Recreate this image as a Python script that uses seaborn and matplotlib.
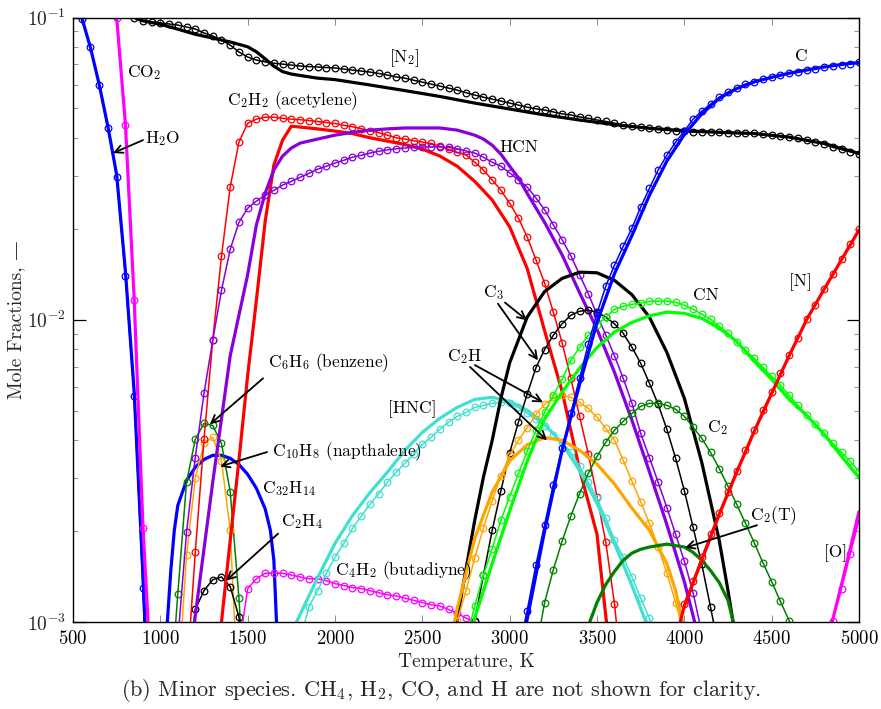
import numpy as np
import matplotlib
matplotlib.use("Agg")
import matplotlib.pyplot as plt
import seaborn as sns
from matplotlib.ticker import FixedLocator, LogLocator, NullFormatter

# colours of the species
BLUE = "#0000ff"
MAGENTA = "#ff00ff"
RED = "#ff0000"
PURPLE = "#8800dd"
TURQ = "#40e0d0"
LIME = "#00ff00"
DKGREEN = "#008000"
ORANGE = "#ffa500"
BLACK = "#000000"


def grid(t0, t1):
    # temperature grid of the circle-marked curves (every 50 K)
    return np.arange(t0, t1 + 1, 50)


# ---- H2O ----
h2o_T = [500, 550, 600, 650, 700, 750, 800, 850, 900, 950]
h2o_line = [0.125, 0.100, 0.0795, 0.0600, 0.0435, 0.0302, 0.0145, 0.0058, 0.00145, 0.0003]
h2o_mark = [0.125, 0.099, 0.0798, 0.0598, 0.0431, 0.0297, 0.0140, 0.0056, 0.0013, 0.0002]

# ---- CO2 ----
co2_T = [700, 750, 800, 850, 900, 950]
co2_line = [0.16, 0.100, 0.0445, 0.0118, 0.0021, 0.0006]
co2_mark = [0.16, 0.100, 0.0440, 0.0116, 0.00204, 0.0006]

# ---- N2 ----
n2_line_T = [850, 900, 1000, 1100, 1200, 1300, 1400, 1500, 1550, 1600, 1650, 1700, 1750, 1800,
             1900, 2000, 2200, 2400, 2600, 2800, 3000, 3200, 3400, 3600, 3800, 4000, 4200,
             4400, 4600, 4800, 5000]
n2_line = [0.100, 0.0975, 0.0950, 0.0915, 0.0880, 0.0855, 0.0830, 0.0800, 0.0770, 0.0730,
           0.0690, 0.0662, 0.0650, 0.0643, 0.0630, 0.0623, 0.0598, 0.0573, 0.0548, 0.0521,
           0.0498, 0.0476, 0.0458, 0.0442, 0.0430, 0.0422, 0.0417, 0.0413, 0.0402, 0.0383, 0.0355]
n2_mark_T = grid(850, 5000)
n2_mark = [0.100, 0.0974, 0.0967, 0.0960, 0.0952, 0.0944, 0.0930, 0.0916, 0.0889, 0.0869,
           0.0842, 0.0810, 0.0769, 0.0740, 0.0723, 0.0713, 0.0706, 0.0701, 0.0696, 0.0691,
           0.0688, 0.0686, 0.0683, 0.0681, 0.0675, 0.0670, 0.0665, 0.0660, 0.0653, 0.0645,
           0.0636, 0.0630, 0.0620, 0.0611, 0.0602, 0.0593, 0.0584, 0.0575, 0.0564, 0.0554,
           0.0545, 0.0537, 0.0529, 0.0521, 0.0513, 0.0505, 0.0499, 0.0494, 0.0487, 0.0480,
           0.0476, 0.0469, 0.0464, 0.0458, 0.0453, 0.0447, 0.0442, 0.0437, 0.0433, 0.0430,
           0.0427, 0.0424, 0.0422, 0.0420, 0.0418, 0.0417, 0.0417, 0.0417, 0.0416, 0.0416,
           0.0415, 0.0414, 0.0411, 0.0408, 0.0405, 0.0402, 0.0398, 0.0393, 0.0387, 0.0381,
           0.0372, 0.0366, 0.0360, 0.0353]

# ---- C ----
c_line_T = [3050, 3100, 3200, 3300, 3400, 3500, 3600, 3700, 3800, 3900, 4000, 4100, 4200,
            4300, 4400, 4500, 4600, 4700, 4800, 4900, 5000]
c_line = [0.00075, 0.00102, 0.0020, 0.0037, 0.0061, 0.0098, 0.0142, 0.0190, 0.0258, 0.0335,
          0.0410, 0.0480, 0.0540, 0.0582, 0.0612, 0.0634, 0.0654, 0.0670, 0.0686, 0.0699, 0.0710]
c_mark_T = grid(3050, 5000)
c_mark = [0.0008, 0.00109, 0.00154, 0.0021, 0.00285, 0.00375, 0.0049, 0.0064, 0.0083, 0.0105,
          0.0129, 0.01515, 0.0175, 0.0201, 0.0236, 0.0272, 0.0313, 0.0350, 0.0387, 0.0421,
          0.0461, 0.0490, 0.0517, 0.0545, 0.0567, 0.0584, 0.0602, 0.0614, 0.0626, 0.0635,
          0.0645, 0.0655, 0.0662, 0.0670, 0.0678, 0.0686, 0.0691, 0.0699, 0.0704, 0.0710]

# ---- C2H2 (acetylene) ----
c2h2_line_T = [1300, 1350, 1400, 1450, 1500, 1550, 1600, 1650, 1700, 1750, 1800, 1900, 2000,
               2100, 2200, 2300, 2400, 2500, 2600, 2700, 2800, 2900, 3000, 3100, 3200, 3300,
               3400, 3500, 3550, 3600]
c2h2_line = [0.0006, 0.001, 0.00186, 0.00343, 0.00655, 0.0116, 0.0211, 0.0325, 0.0393, 0.0437,
             0.0434, 0.0428, 0.0421, 0.0413, 0.0400, 0.0390, 0.0380, 0.0367, 0.0348, 0.0322,
             0.0287, 0.0249, 0.0203, 0.0148, 0.0092, 0.0058, 0.0032, 0.00195, 0.00105, 0.0006]
c2h2_mark_T = grid(1150, 3650)
c2h2_mark = [0.00064, 0.0017, 0.00402, 0.00855, 0.0162, 0.0275, 0.0387, 0.0447, 0.0461, 0.0468,
             0.0468, 0.0464, 0.0461, 0.0459, 0.0456, 0.0453, 0.0449, 0.0446, 0.0440, 0.0435,
             0.0429, 0.0422, 0.0416, 0.0408, 0.0400, 0.0396, 0.0391, 0.0387, 0.0383, 0.0375,
             0.0366, 0.0358, 0.0351, 0.0332, 0.0313, 0.0290, 0.0268, 0.0243, 0.0217, 0.0188,
             0.0158, 0.0132, 0.0106, 0.0084, 0.0064, 0.0048, 0.0036, 0.0026, 0.00184, 0.00115,
             0.0006]

# ---- HCN ----
hcn_line_T = [1150, 1200, 1300, 1400, 1500, 1550, 1600, 1650, 1700, 1750, 1800, 1900, 2000,
              2100, 2200, 2300, 2400, 2500, 2600, 2700, 2800, 2850, 2900, 2950, 3000, 3050,
              3100, 3200, 3300, 3400, 3500, 3600, 3700, 3800, 3900, 4000, 4050, 4100]
hcn_line = [0.00055, 0.00105, 0.0029, 0.0076, 0.0141, 0.0206, 0.0262, 0.0313, 0.0348, 0.0370,
            0.0384, 0.0396, 0.0408, 0.0417, 0.0424, 0.0428, 0.0431, 0.0431, 0.0431, 0.0424,
            0.0408, 0.0396, 0.0378, 0.0353, 0.0322, 0.0295, 0.0262, 0.0210, 0.0164, 0.0123,
            0.0093, 0.0067, 0.00465, 0.00314, 0.0021, 0.00136, 0.00105, 0.0008]
hcn_mark_T = grid(1100, 4100)
hcn_mark = [0.00087, 0.00198, 0.0035, 0.00571, 0.00855, 0.0125, 0.0171, 0.0210, 0.0234, 0.0247,
            0.0258, 0.0268, 0.0279, 0.0287, 0.0296, 0.0305, 0.0315, 0.0322, 0.0330, 0.0337,
            0.0345, 0.0350, 0.0356, 0.0361, 0.0365, 0.0368, 0.0370, 0.0372, 0.0373, 0.0373,
            0.0373, 0.0372, 0.0368, 0.0362, 0.0356, 0.0345, 0.0332, 0.0322, 0.0306, 0.0290,
            0.0275, 0.0253, 0.0231, 0.0206, 0.0184, 0.0163, 0.0141, 0.0122, 0.0104, 0.0089,
            0.0076, 0.0064, 0.0053, 0.00421, 0.0035, 0.0029, 0.00239, 0.00195, 0.00159, 0.00125,
            0.00092]

# ---- C3 ----
c3_line_T = [2650, 2700, 2800, 2850, 2900, 2950, 3000, 3100, 3200, 3300, 3400, 3500, 3600,
             3700, 3800, 3900, 4000, 4100, 4200, 4250, 4300]
c3_line = [0.0005, 0.00103, 0.00217, 0.00302, 0.00399, 0.0055, 0.0072, 0.0102, 0.0124, 0.0137,
           0.01437, 0.0143, 0.0135, 0.0121, 0.0102, 0.0078, 0.0055, 0.00337, 0.00186, 0.00127,
           0.00084]
c3_mark_T = grid(2750, 4200)
c3_mark = [0.0007, 0.00101, 0.00143, 0.00201, 0.00272, 0.00363, 0.00458, 0.00567, 0.00693, 0.00797,
           0.00889, 0.0097, 0.01035, 0.01067, 0.01075, 0.0106, 0.0102, 0.0097, 0.00902, 0.00811,
           0.00718, 0.00617, 0.00525, 0.00434, 0.00348, 0.00272, 0.00206, 0.00155, 0.00112, 0.0008]

# ---- small hydrocarbons near 1300 K ----
c2h4_mark_T = grid(1150, 1500)
c2h4_mark = [0.00055, 0.0011, 0.00127, 0.00138, 0.00141, 0.00131, 0.00104, 0.0005]
c6h6_mark_T = grid(1050, 1500)
c6h6_mark = [0.0005, 0.00124, 0.0029, 0.00402, 0.00454, 0.00447, 0.0039, 0.0027, 0.0012, 0.0004]
c10h8_mark_T = grid(1100, 1450)
c10h8_mark = [0.0006, 0.00166, 0.00299, 0.0039, 0.00408, 0.00342, 0.00201, 0.0005]
c32h14_T = [1030, 1040, 1060, 1080, 1100, 1150, 1200, 1250, 1300, 1350, 1400, 1450, 1500,
            1550, 1600, 1630, 1650, 1665, 1670]
c32h14 = [0.00087, 0.001, 0.00148, 0.00201, 0.00243, 0.00294, 0.00325, 0.00345, 0.00356, 0.00356,
          0.00348, 0.00332, 0.00308, 0.00277, 0.00237, 0.00201, 0.0016, 0.001, 0.00075]
c4h2_mark_T = grid(1450, 2850)
c4h2_mark = [0.00082, 0.00129, 0.00139, 0.00145, 0.00145, 0.00145, 0.00143, 0.00141, 0.00139, 0.00139,
             0.00137, 0.00134, 0.00132, 0.0013, 0.00129, 0.00127, 0.00125, 0.00123, 0.00122, 0.0012,
             0.00118, 0.00116, 0.00114, 0.00113, 0.0011, 0.00107, 0.00103, 0.001, 0.00087]

# ---- HNC ----
hnc_line_T = [1750, 1780, 1900, 2000, 2100, 2200, 2300, 2400, 2500, 2600, 2700, 2800, 2900,
              3000, 3100, 3200, 3300, 3400, 3500, 3600, 3700, 3780, 3800]
hnc_line = [0.0008, 0.001, 0.0014, 0.00182, 0.00225, 0.00268, 0.00313, 0.0037, 0.00424, 0.00472,
            0.00513, 0.00545, 0.00554, 0.00537, 0.00502, 0.00451, 0.0039, 0.00317, 0.00247,
            0.00182, 0.00132, 0.001, 0.00092]
hnc_mark_T = grid(1800, 3850)
hnc_mark = [0.00087, 0.00112, 0.00127, 0.00145, 0.00164, 0.00182, 0.00204, 0.00224, 0.00245, 0.00266,
            0.0029, 0.00313, 0.00335, 0.00359, 0.00387, 0.00408, 0.00434, 0.00458, 0.00479, 0.00494,
            0.00513, 0.00521, 0.00529, 0.00533, 0.00529, 0.00513, 0.0049, 0.00468, 0.00445, 0.00417,
            0.00393, 0.00365, 0.00327, 0.0029, 0.00257, 0.00221, 0.00187, 0.00164, 0.00141, 0.0012,
            0.00103, 0.00087]

# ---- C2H ----
c2h_line_T = [2650, 2700, 2800, 2900, 3000, 3100, 3200, 3300, 3400, 3500, 3600, 3700, 3800,
              3900, 3950, 3990, 4050]
c2h_line = [0.0008, 0.00111, 0.00189, 0.00269, 0.00341, 0.00386, 0.00408, 0.00399, 0.0037, 0.00333,
            0.00286, 0.00238, 0.00201, 0.00156, 0.00127, 0.001, 0.00064]
c2h_mark_T = grid(2700, 4000)
c2h_mark = [0.00101, 0.00127, 0.00163, 0.00205, 0.00252, 0.00305, 0.00356, 0.00399, 0.0044, 0.00486,
            0.00525, 0.00554, 0.00562, 0.00554, 0.00533, 0.00509, 0.00476, 0.00437, 0.00399, 0.00343,
            0.00292, 0.0025, 0.00212, 0.00177, 0.00145, 0.00116, 0.0009]

# ---- CN ----
cn_line_T = [2750, 2800, 2900, 3000, 3100, 3200, 3300, 3400, 3500, 3600, 3700, 3800, 3900,
             4000, 4100, 4200, 4300, 4400, 4500, 4600, 4700, 4800, 4900, 5000]
cn_line = [0.0008, 0.00103, 0.00156, 0.00233, 0.0034, 0.0047, 0.00575, 0.00691, 0.0081, 0.0091,
           0.0098, 0.0103, 0.0106, 0.0105, 0.0101, 0.00938, 0.00848, 0.00729, 0.00635, 0.00545,
           0.00483, 0.00418, 0.00353, 0.0030]
cn_mark_T = grid(2750, 5000)
cn_mark = [0.00087, 0.00113, 0.00143, 0.00175, 0.00217, 0.0026, 0.0031, 0.00367, 0.00431, 0.00494,
           0.00562, 0.00635, 0.00734, 0.0081, 0.00889, 0.0096, 0.0102, 0.01083, 0.01108, 0.01125,
           0.01134, 0.01152, 0.01152, 0.01152, 0.01143, 0.01117, 0.01083, 0.01043, 0.01004, 0.00952,
           0.00902, 0.00842, 0.00792, 0.00746, 0.00696, 0.0065, 0.00607, 0.00562, 0.00521, 0.00483,
           0.00451, 0.00421, 0.0039, 0.00364, 0.0034, 0.00315]

# ---- C2 and C2(T) ----
c2_mark_T = grid(3150, 4650)
c2_mark = [0.0008, 0.00116, 0.00149, 0.00185, 0.00224, 0.00266, 0.0031, 0.00353, 0.00393, 0.00431,
           0.00461, 0.0049, 0.00517, 0.00529, 0.00529, 0.00521, 0.00505, 0.00479, 0.00441, 0.00405,
           0.00364, 0.00322, 0.00281, 0.00245, 0.00212, 0.00183, 0.00157, 0.00136, 0.00117, 0.00101,
           0.00087]
c2t_T = [3450, 3500, 3550, 3600, 3650, 3700, 3750, 3800, 3850, 3900, 3950, 4000, 4050, 4100,
         4150, 4200, 4250, 4280, 4300]
c2t = [0.00097, 0.00116, 0.00133, 0.00147, 0.0016, 0.00169, 0.00174, 0.00177, 0.00179, 0.00181,
       0.00179, 0.00177, 0.0017, 0.0016, 0.00148, 0.00135, 0.00118, 0.001, 0.00087]

# ---- [N] and [O] ----
n_line_T = [3950, 4000, 4100, 4200, 4300, 4400, 4500, 4600, 4700, 4800, 4900, 5000]
n_line = [0.00087, 0.00113, 0.0016, 0.00227, 0.00313, 0.00427, 0.0057, 0.0076, 0.0100, 0.0126,
          0.0158, 0.0198]
n_mark_T = grid(3950, 5000)
n_mark = [0.00087, 0.00115, 0.00137, 0.00164, 0.00195, 0.0023, 0.0027, 0.00317, 0.0037, 0.00431,
          0.00502, 0.00575, 0.00665, 0.00763, 0.00868, 0.01008, 0.01117, 0.01262, 0.01415, 0.01586,
          0.01778, 0.01994]
o_line_T = [4800, 4850, 4900, 4950, 5000]
o_line = [0.0007, 0.00102, 0.00133, 0.00175, 0.00232]
o_mark_T = grid(4800, 5000)
o_mark = [0.00077, 0.00101, 0.00129, 0.00168, 0.00217]

sns.set_style("ticks")
plt.rcParams["font.family"] = ["cmr10", "DejaVu Serif"]
plt.rcParams["mathtext.fontset"] = "cm"
plt.rcParams["axes.unicode_minus"] = False
plt.rcParams["axes.formatter.use_mathtext"] = True

fig = plt.figure(figsize=(8.81, 7.09), dpi=100)
ax = fig.add_axes([73 / 881, 1 - 622 / 709, 786 / 881, 604.5 / 709])


def solid(t, y, color):
    sns.lineplot(x=t, y=y, ax=ax, color=color, lw=2.3, sort=False, errorbar=None)


def marked(t, y, color):
    sns.lineplot(x=t, y=y, ax=ax, color=color, lw=1.1, marker="o", markersize=4.8,
                 markerfacecolor="none", markeredgecolor=color, markeredgewidth=0.9,
                 sort=False, errorbar=None)


solid(h2o_T, h2o_line, BLUE)
marked(h2o_T, h2o_mark, BLUE)
solid(co2_T, co2_line, MAGENTA)
marked(co2_T, co2_mark, MAGENTA)
solid(n2_line_T, n2_line, BLACK)
marked(n2_mark_T, n2_mark, BLACK)
solid(c32h14_T, c32h14, BLUE)
marked(c6h6_mark_T, c6h6_mark, DKGREEN)
marked(c10h8_mark_T, c10h8_mark, ORANGE)
marked(c2h4_mark_T, c2h4_mark, BLACK)
marked(c4h2_mark_T, c4h2_mark, MAGENTA)
solid(c2h2_line_T, c2h2_line, RED)
marked(c2h2_mark_T, c2h2_mark, RED)
solid(hcn_line_T, hcn_line, PURPLE)
marked(hcn_mark_T, hcn_mark, PURPLE)
solid(hnc_line_T, hnc_line, TURQ)
marked(hnc_mark_T, hnc_mark, TURQ)
solid(c3_line_T, c3_line, BLACK)
marked(c3_mark_T, c3_mark, BLACK)
solid(c2h_line_T, c2h_line, ORANGE)
marked(c2h_mark_T, c2h_mark, ORANGE)
solid(cn_line_T, cn_line, LIME)
marked(cn_mark_T, cn_mark, LIME)
solid(c2t_T, c2t, DKGREEN)
marked(c2_mark_T, c2_mark, DKGREEN)
solid(c_line_T, c_line, BLUE)
marked(c_mark_T, c_mark, BLUE)
solid(n_line_T, n_line, RED)
marked(n_mark_T, n_mark, RED)
solid(o_line_T, o_line, MAGENTA)
marked(o_mark_T, o_mark, MAGENTA)

ax.set_yscale("log")
ax.set_xlim(500, 5000)
ax.set_ylim(1e-3, 1e-1)

# axes, ticks
for s in ax.spines.values():
    s.set_visible(True)
    s.set_linewidth(1.0)
    s.set_color("black")
ax.xaxis.set_major_locator(FixedLocator(np.arange(500, 5001, 500)))
ax.yaxis.set_major_locator(LogLocator(base=10))
ax.yaxis.set_minor_locator(LogLocator(base=10, subs=np.arange(2, 10)))
ax.yaxis.set_minor_formatter(NullFormatter())
ax.tick_params(axis="x", which="major", direction="in", top=True, bottom=True,
               length=5, width=0.7, color="0.55", labelsize=13.5, pad=6, labelcolor="black")
ax.tick_params(axis="y", which="major", direction="in", left=True, right=True,
               length=9, width=0.9, color="black", labelsize=14, pad=5)
ax.tick_params(axis="y", which="minor", direction="in", left=True, right=True,
               length=3.5, width=0.8, color="0.6")

ax.set_xlabel("Temperature, K", fontsize=14)
ax.set_ylabel("Mole Fractions, \u2014", fontsize=14)
ax.xaxis.label.set_va("center")
ax.xaxis.set_label_coords(0.5, -0.066)
ax.yaxis.label.set_va("center")
ax.yaxis.set_label_coords(-0.072, 0.5)

# species labels
TXT = dict(fontsize=12.5, color="black")
ax.text(809, 0.066, r"CO$_2$", ha="left", va="center", **TXT)
ax.text(912, 0.0399, r"H$_2$O", ha="left", va="center", **TXT)
ax.text(2395, 0.0735, r"[N$_2$]", ha="center", va="center", **TXT)
ax.text(4668, 0.0746, "C", ha="center", va="center", **TXT)
ax.text(1382, 0.0529, r"C$_2$H$_2$ (acetylene)", ha="left", va="center", **TXT)
ax.text(3053, 0.0373, "HCN", ha="center", va="center", **TXT)
ax.text(2905, 0.01233, r"C$_3$", ha="center", va="center", **TXT)
ax.text(2744, 0.00757, r"C$_2$H", ha="center", va="center", **TXT)
ax.text(4124, 0.01205, "CN", ha="center", va="center", **TXT)
ax.text(4662, 0.0133, "[N]", ha="center", va="center", **TXT)
ax.text(1616, 0.00723, r"C$_6$H$_6$ (benzene)", ha="left", va="center", **TXT)
ax.text(2441, 0.00505, "[HNC]", ha="center", va="center", **TXT)
ax.text(4187, 0.0044, r"C$_2$", ha="center", va="center", **TXT)
ax.text(1639, 0.00367, r"C$_{10}$H$_8$ (napthalene)", ha="left", va="center", **TXT)
ax.text(1582, 0.00277, r"C$_{32}$H$_{14}$", ha="left", va="center", **TXT)
ax.text(1691, 0.00215, r"C$_2$H$_4$", ha="left", va="center", **TXT)
ax.text(4376, 0.00225, r"C$_2$(T)", ha="left", va="center", **TXT)
ax.text(2000, 0.00148, r"C$_4$H$_2$ (butadiyne)", ha="left", va="center", **TXT)
ax.text(4868, 0.00169, "[O]", ha="center", va="center", **TXT)

# arrows: (tail, head)
arrows = [
    ((901, 0.0393), (729, 0.0356)),
    ((2973, 0.0114), (3099, 0.00996)),
    ((2933, 0.0113), (3162, 0.00734)),
    ((2801, 0.00708), (3191, 0.00533)),
    ((2773, 0.00698), (3214, 0.00399)),
    ((1588, 0.0064), (1284, 0.00451)),
    ((1611, 0.00365), (1342, 0.00327)),
    ((1674, 0.00196), (1376, 0.00137)),
    ((4416, 0.00209), (4004, 0.00176)),
]
for tail, head in arrows:
    ax.annotate("", xy=head, xytext=tail,
                arrowprops=dict(arrowstyle="->", lw=1.3, color="black",
                                shrinkA=0, shrinkB=0, mutation_scale=14))

fig.text(441 / 881, 1 - 690 / 709,
         r"(b) Minor species. CH$_4$, H$_2$, CO, and H are not shown for clarity.",
         ha="center", va="center", fontsize=16)

fig.savefig("out.png", dpi=100)
